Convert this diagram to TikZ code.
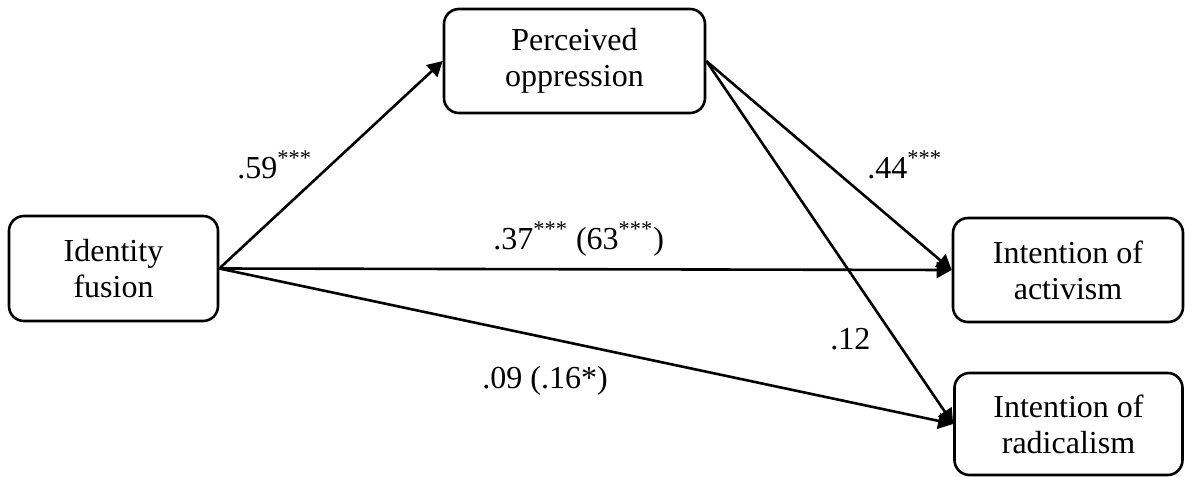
\documentclass[tikz,border=0pt]{standalone}
\usepackage{fontspec}
\setmainfont{Liberation Serif}
\usetikzlibrary{arrows.meta,positioning}
\tikzset{
  varbox/.style   = {draw, line width=1.3pt, rounded corners=7.5pt, align=center,
                     inner sep=0pt, font=\fontsize{16}{18}\selectfont},
  path arrow/.style = {-{Triangle[length=7.5pt,width=8pt]}, line width=1.3pt},
  coef/.style     = {font=\fontsize{16}{18}\selectfont, inner sep=0pt},
}

\begin{document}
\begin{tikzpicture}[x=0.5pt,y=-0.5pt]
  \useasboundingbox (0,0) rectangle (1185,477);

  % ---- the four variables ------------------------------------------------
  \node[varbox, minimum width=104.5pt, minimum height=52.5pt] (fusion)
        at (113.5,268.5) {Identity\\fusion};
  \node[varbox, minimum width=130.5pt, minimum height=52pt] (oppression)
        at (574.5,61) {Perceived\\oppression};
  \node[varbox, minimum width=115pt, minimum height=52pt] (activism)
        at (1068,270) {Intention of\\activism};
  \node[varbox, minimum width=114pt, minimum height=51pt] (radicalism)
        at (1068.5,424) {Intention of\\radicalism};

  % ---- paths -------------------------------------------------------------
  \draw[path arrow] (fusion.east) -- (oppression.west);
  \draw[path arrow] (fusion.east) -- (activism.west);
  \draw[path arrow] (fusion.east) -- (radicalism.west);
  \draw[path arrow] (oppression.east) -- (activism.west);
  \draw[path arrow] (oppression.east) -- (radicalism.west);

  % ---- coefficients ------------------------------------------------------
  \node[coef, anchor=base west] (c59) at (237,178) {.59\textsuperscript{***}};
  \node[coef, anchor=base west] (c44) at (867,178) {.44\textsuperscript{***}};
  \node[coef, anchor=base west] (c37) at (493,249)
        {.37\textsuperscript{***} (63\textsuperscript{***})};
  \node[coef, anchor=base west] (c12) at (830,349) {.12};
  \node[coef, anchor=base west] (c09) at (482,388) {.09 (.16*)};
\end{tikzpicture}
\end{document}
